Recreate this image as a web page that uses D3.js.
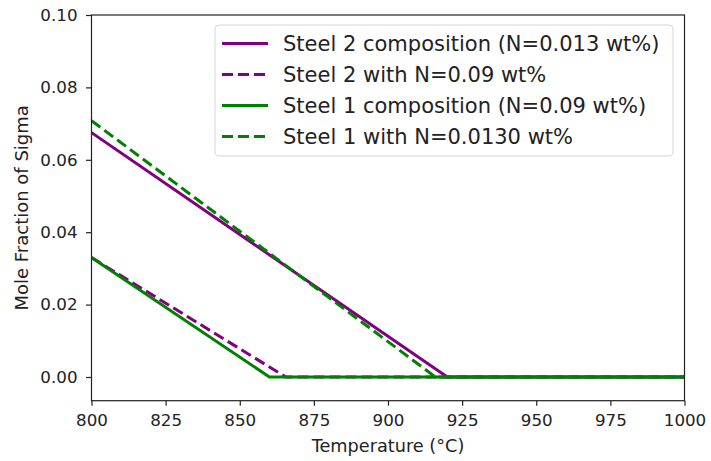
<!DOCTYPE html>
<html><head><meta charset="utf-8">
<script src="https://cdn.jsdelivr.net/npm/d3@7"></script>
<style>body{margin:0;background:#fff}svg{display:block}text{font-family:"DejaVu Sans",sans-serif;fill:#222}</style>
</head><body><svg id="c" width="711" height="461"></svg>
<script>
const xTicks=[800,825,850,875,900,925,950,975,1000];
const yTicks=[0.00,0.02,0.04,0.06,0.08,0.10];
const seriesNames=["Steel 2 composition (N=0.013 wt%)","Steel 2 with N=0.09 wt%","Steel 1 composition (N=0.09 wt%)","Steel 1 with N=0.0130 wt%"];
const seriesColors=["#800080","#800080","#008000","#008000"];
const seriesDashed=[false,true,false,true];
const steel2Comp=[[800,0.0675],[920,0],[1000,0]];
const steel2N09=[[800,0.0330],[865.5,0],[1000,0]];
const steel1Comp=[[800,0.0330],[860,0],[1000,0]];
const steel1N013=[[800,0.0708],[916,0],[1000,0]];
const seriesData=[steel2Comp,steel2N09,steel1Comp,steel1N013];

const svg=d3.select("#c");
const L=91.5,R=684.5,T=15,B=400.7;
const x=d3.scaleLinear().domain([800,1000]).range([L,R]);
const y=d3.scaleLinear().domain([-0.00655,0.10]).range([B,T]);
svg.append("defs").append("clipPath").attr("id","cp").append("rect").attr("x",L).attr("y",T).attr("width",R-L).attr("height",B-T);
const g=svg.append("g").attr("clip-path","url(#cp)");
const line=d3.line().x(d=>x(d[0])).y(d=>y(d[1]));
seriesData.forEach((d,i)=>{
  g.append("path").attr("d",line(d)).attr("fill","none").attr("stroke",seriesColors[i]).attr("stroke-width",3)
   .attr("stroke-dasharray",seriesDashed[i]?"11,5":null);
});
svg.append("rect").attr("x",L).attr("y",T).attr("width",R-L).attr("height",B-T).attr("fill","none").attr("stroke","#222").attr("stroke-width",1.2);
const xa=svg.append("g").attr("transform",`translate(0,${B})`).call(d3.axisBottom(x).tickValues(xTicks).tickFormat(d3.format("d")).tickSize(5).tickPadding(8));
const ya=svg.append("g").attr("transform",`translate(${L},0)`).call(d3.axisLeft(y).tickValues(yTicks).tickFormat(d3.format(".2f")).tickSize(5.5).tickPadding(8.5));
[xa,ya].forEach(a=>{a.select(".domain").remove();a.selectAll("line").attr("stroke","#222").attr("stroke-width",1.2);a.selectAll("text").attr("font-size",16.7).attr("fill","#222").style("font-family","DejaVu Sans");});
svg.append("text").attr("x",(L+R)/2).attr("y",452).attr("text-anchor","middle").attr("font-size",17.7).text("Temperature (°C)");
svg.append("text").attr("transform",`translate(28,${(T+B)/2}) rotate(-90)`).attr("text-anchor","middle").attr("font-size",18).text("Mole Fraction of Sigma");
const lg=svg.append("g");
lg.append("rect").attr("x",215).attr("y",25).attr("width",458).attr("height",131).attr("rx",4).attr("fill","#fff").attr("fill-opacity",0.8).attr("stroke","#d6d6d6").attr("stroke-width",1);
const rowY=[43.5,74.5,105.5,136.5];
seriesNames.forEach((n,i)=>{
  lg.append("line").attr("x1",222).attr("x2",268).attr("y1",rowY[i]).attr("y2",rowY[i]).attr("stroke",seriesColors[i]).attr("stroke-width",3).attr("stroke-dasharray",seriesDashed[i]?"11,5":null);
  lg.append("text").attr("x",283).attr("y",rowY[i]).attr("dy","0.36em").attr("font-size",21).text(n);
});
</script></body></html>
